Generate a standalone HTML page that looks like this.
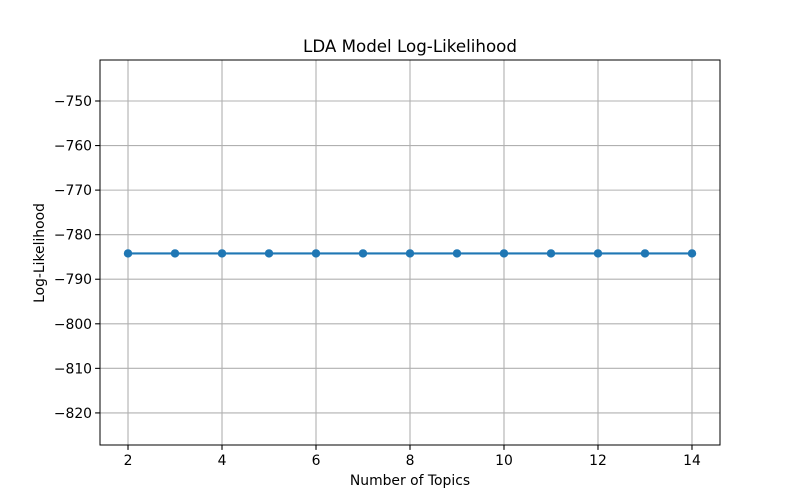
<!DOCTYPE html>
<html><head><meta charset="utf-8"><style>
html,body{margin:0;padding:0;background:#fff;}
svg{display:block;font-family:"DejaVu Sans","Liberation Sans",sans-serif;}
</style></head><body>
<svg id="chart" width="800" height="500">
<rect x="0" y="0" width="800" height="500" fill="#fff"/>
<text x="410" y="52" text-anchor="middle" font-size="16.7" fill="#000">LDA Model Log-Likelihood</text>
<g id="grid"></g>
<g id="ticks"></g>
<g id="series"></g>
<rect x="100" y="60" width="620" height="385" fill="none" stroke="#000" stroke-width="1"/>
<text x="410" y="485" text-anchor="middle" font-size="13.9">Number of Topics</text>
<text x="44" y="253" text-anchor="middle" font-size="13.9" transform="rotate(-90 44 253)">Log-Likelihood</text>
</svg>
<script>
const topics = [2,3,4,5,6,7,8,9,10,11,12,13,14];
const logLik = [-784.2,-784.2,-784.2,-784.2,-784.2,-784.2,-784.2,-784.2,-784.2,-784.2,-784.2,-784.2,-784.2];
const xTicks = [2,4,6,8,10,12,14];
const yTicks = [-750,-760,-770,-780,-790,-800,-810,-820];

const NS="http://www.w3.org/2000/svg";
const X0=100,X1=720,Y0=60,Y1=445;
const xMin=1.404,xMax=14.596,yMin=-827.2,yMax=-740.8;
const xs=v=>X0+(v-xMin)/(xMax-xMin)*(X1-X0);
const ys=v=>Y1-(v-yMin)/(yMax-yMin)*(Y1-Y0);
function mk(tag,attrs,parent){const e=document.createElementNS(NS,tag);for(const k in attrs)e.setAttribute(k,attrs[k]);parent.appendChild(e);return e;}
const grid=document.getElementById('grid'),ticks=document.getElementById('ticks'),series=document.getElementById('series');
xTicks.forEach(t=>{const x=xs(t);
 const g=mk('line',{x1:x,x2:x,y1:Y0,y2:Y1,stroke:'#b0b0b0','stroke-width':1.1},grid);
 
 
 mk('line',{x1:x,x2:x,y1:Y1,y2:Y1+4.9,stroke:'#000','stroke-width':1.1},ticks);
 const l=mk('text',{x:x,y:Y1+20,'text-anchor':'middle','font-size':13.9},ticks);l.textContent=t;
 
 
});
yTicks.forEach(t=>{const y=ys(t);
 const g=mk('line',{x1:X0,x2:X1,y1:y,y2:y,stroke:'#b0b0b0','stroke-width':1.1},grid);
 
 
 mk('line',{x1:X0-4.9,x2:X0,y1:y,y2:y,stroke:'#000','stroke-width':1.1},ticks);
 const l=mk('text',{x:X0-8,y:y+5,'text-anchor':'end','font-size':13.9},ticks);l.textContent='\u2212'+Math.abs(t);
 
 
});
const pts=topics.map((t,i)=>xs(t)+','+ys(logLik[i])).join(' ');
const line=mk('polyline',{points:pts,fill:'none',stroke:'#1f77b4','stroke-width':2.1},series);


topics.forEach((t,i)=>{
 const c=mk('circle',{cx:xs(t),cy:ys(logLik[i]),r:4.2,fill:'#1f77b4'},series);
 
 
});
</script>
</body></html>
